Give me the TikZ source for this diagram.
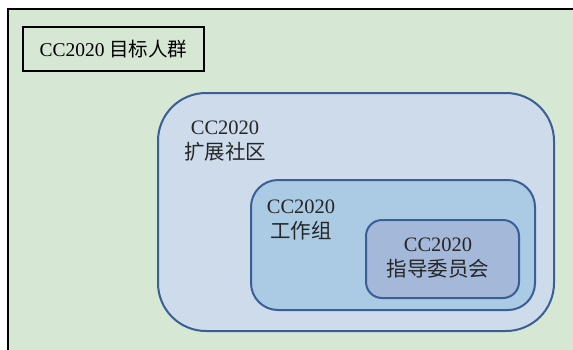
\documentclass[tikz,border=0pt]{standalone}
\usepackage{fontspec}
\setmainfont{Liberation Serif}
\newfontfamily\cjk{Noto Sans CJK SC}
\definecolor{bggreen}{RGB}{214,232,211}
\definecolor{blueline}{RGB}{58,94,150}
\definecolor{fillA}{RGB}{205,219,235}
\definecolor{fillB}{RGB}{170,203,227}
\definecolor{fillC}{RGB}{164,185,218}
\tikzset{
  grp/.style={draw=blueline, line width=2pt, inner sep=0pt},
  lbl/.style={align=center, font=\fontsize{20.5}{25}\selectfont, text=black!85, inner sep=0pt},
}
\begin{document}
\begin{tikzpicture}[x=1pt,y=-1pt]
\useasboundingbox (0,0) rectangle (573,349);
\clip (0,0) rectangle (573,349);
\fill[white] (0,0) rectangle (573,349);
\draw[line width=2pt, fill=bggreen] (8,9) rectangle (600,380);
\node[draw=black, line width=2pt, fill=bggreen, minimum width=181pt, minimum height=44pt, inner sep=0pt, font=\fontsize{19.5}{24}\selectfont] (title) at (113.5,49) {CC2020 {\cjk 目标人群}};
\node[grp, fill=fillA, minimum width=396pt, minimum height=238pt, rounded corners=48pt] (ext) at (356,212) {};
\node[grp, fill=fillB, minimum width=284pt, minimum height=130pt, rounded corners=27pt] (wg) at (393,245) {};
\node[grp, fill=fillC, minimum width=153pt, minimum height=78pt, rounded corners=16pt] (sc) at (442.5,259) {};
\node[lbl] (extl) at (225,141) {CC2020\\[0pt]{\cjk 扩展社区}};
\node[lbl] (wgl) at (301,220) {CC2020\\[0pt]{\cjk 工作组}};
\node[lbl] (scl) at (438,258) {CC2020\\[0pt]{\cjk 指导委员会}};
\end{tikzpicture}
\end{document}
